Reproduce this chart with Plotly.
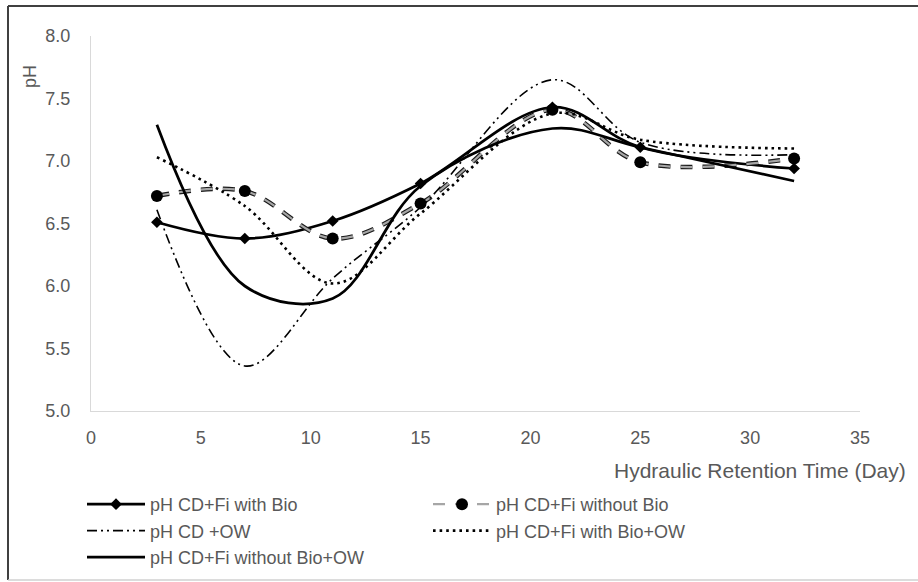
import plotly.graph_objects as go

# ---- data ----
hrt = [3, 7, 11, 15, 21, 25, 32]
ph_fi_bio = [6.51, 6.38, 6.52, 6.82, 7.43, 7.11, 6.94]
ph_fi_nobio = [6.72, 6.76, 6.38, 6.66, 7.41, 6.99, 7.02]
ph_cd_ow = [6.61, 5.36, 6.06, 6.63, 7.65, 7.15, 7.05]
ph_fi_bio_ow = [7.03, 6.64, 6.02, 6.58, 7.38, 7.17, 7.10]
ph_fi_nobio_ow = [7.29, 6.00, 5.90, 6.80, 7.26, 7.11, 6.84]

names = ["pH CD+Fi with Bio", "pH CD+Fi without Bio", "pH CD +OW",
         "pH CD+Fi with Bio+OW", "pH CD+Fi without Bio+OW"]

x_ticks = [0, 5, 10, 15, 20, 25, 30, 35]
y_ticks = [5.0, 5.5, 6.0, 6.5, 7.0, 7.5, 8.0]

FONT = "Liberation Sans, Arial, sans-serif"
TXT = "#595959"
W, H = 918, 582
ML, MR, MT, MB = 91, 58, 36, 171
PW, PH = W - ML - MR, H - MT - MB


def px_x(px):
    return (px - ML) / PW


def px_y(py):
    return (H - MB - py) / PH


fig = go.Figure()

fig.add_trace(go.Scatter(
    x=hrt, y=ph_fi_bio, name=names[0], mode="lines+markers",
    line=dict(color="#000000", width=2.75, shape="spline", smoothing=1),
    marker=dict(symbol="diamond", size=9, color="#000000"),
))
# outlined dashed line: dark underlay + grey core
fig.add_trace(go.Scatter(
    x=hrt, y=ph_fi_nobio, name=names[1], mode="lines", showlegend=False,
    line=dict(color="#1a1a1a", width=4.5, shape="spline", smoothing=1, dash="12px,10px"),
    hoverinfo="skip",
))
fig.add_trace(go.Scatter(
    x=hrt, y=ph_fi_nobio, name=names[1], mode="lines+markers",
    line=dict(color="#a6a6a6", width=2.2, shape="spline", smoothing=1, dash="12px,10px"),
    marker=dict(symbol="circle", size=12, color="#000000"),
))
fig.add_trace(go.Scatter(
    x=hrt, y=ph_cd_ow, name=names[2], mode="lines",
    line=dict(color="#000000", width=1.6, shape="spline", smoothing=1,
              dash="10px,4px,2px,4px,2px,4px"),
))
fig.add_trace(go.Scatter(
    x=hrt, y=ph_fi_bio_ow, name=names[3], mode="lines",
    line=dict(color="#000000", width=2.6, shape="spline", smoothing=1, dash="2.6px,4px"),
))
fig.add_trace(go.Scatter(
    x=hrt, y=ph_fi_nobio_ow, name=names[4], mode="lines",
    line=dict(color="#000000", width=2.75, shape="spline", smoothing=1),
))

frame = "#404040"
fig.update_layout(
    width=W, height=H, autosize=False,
    margin=dict(l=ML, r=MR, t=MT, b=MB, pad=0, autoexpand=False),
    paper_bgcolor="white", plot_bgcolor="white",
    font=dict(family=FONT, size=18, color=TXT),
    xaxis=dict(range=[0, 35], tickvals=x_ticks, ticktext=[str(v) for v in x_ticks],
               showgrid=False, zeroline=False, showline=True, linecolor="#d9d9d9",
               linewidth=1.3, ticks="", ticklabelstandoff=10, automargin=False,
               tickfont=dict(family=FONT, size=18, color=TXT)),
    yaxis=dict(range=[5, 8], tickvals=y_ticks, ticktext=[f"{v:.1f}" for v in y_ticks],
               showgrid=False, zeroline=False, showline=True, linecolor="#d9d9d9",
               linewidth=1.3, ticks="", ticklabelstandoff=16, automargin=False,
               tickfont=dict(family=FONT, size=18, color=TXT)),
    legend=dict(orientation="h", x=px_x(82), y=px_y(486), xanchor="left", yanchor="top",
                entrywidth=273, entrywidthmode="pixels", itemwidth=58, tracegroupgap=0,
                font=dict(family=FONT, size=18, color=TXT), bgcolor="rgba(0,0,0,0)"),
    showlegend=True,
    annotations=[
        dict(text="pH", textangle=-90, x=px_x(30), y=px_y(77), xref="paper", yref="paper",
             xanchor="center", yanchor="middle",
             showarrow=False, font=dict(family=FONT, size=18, color=TXT)),
        dict(text="Hydraulic Retention Time (Day)", x=px_x(908), y=px_y(470),
             xref="paper", yref="paper", xanchor="right", yanchor="middle",
             showarrow=False, font=dict(family=FONT, size=21, color=TXT)),
    ],
    shapes=[
        dict(type="line", xref="paper", yref="paper", x0=px_x(8), x1=px_x(W + 2),
             y0=px_y(6), y1=px_y(6), line=dict(color=frame, width=2)),
        dict(type="line", xref="paper", yref="paper", x0=px_x(8), x1=px_x(8),
             y0=px_y(6), y1=px_y(580), line=dict(color=frame, width=2)),
        dict(type="line", xref="paper", yref="paper", x0=px_x(8), x1=px_x(W + 2),
             y0=px_y(580), y1=px_y(580), line=dict(color="#d0d0d0", width=1.5)),
    ],
)

fig.write_html("out.html")
